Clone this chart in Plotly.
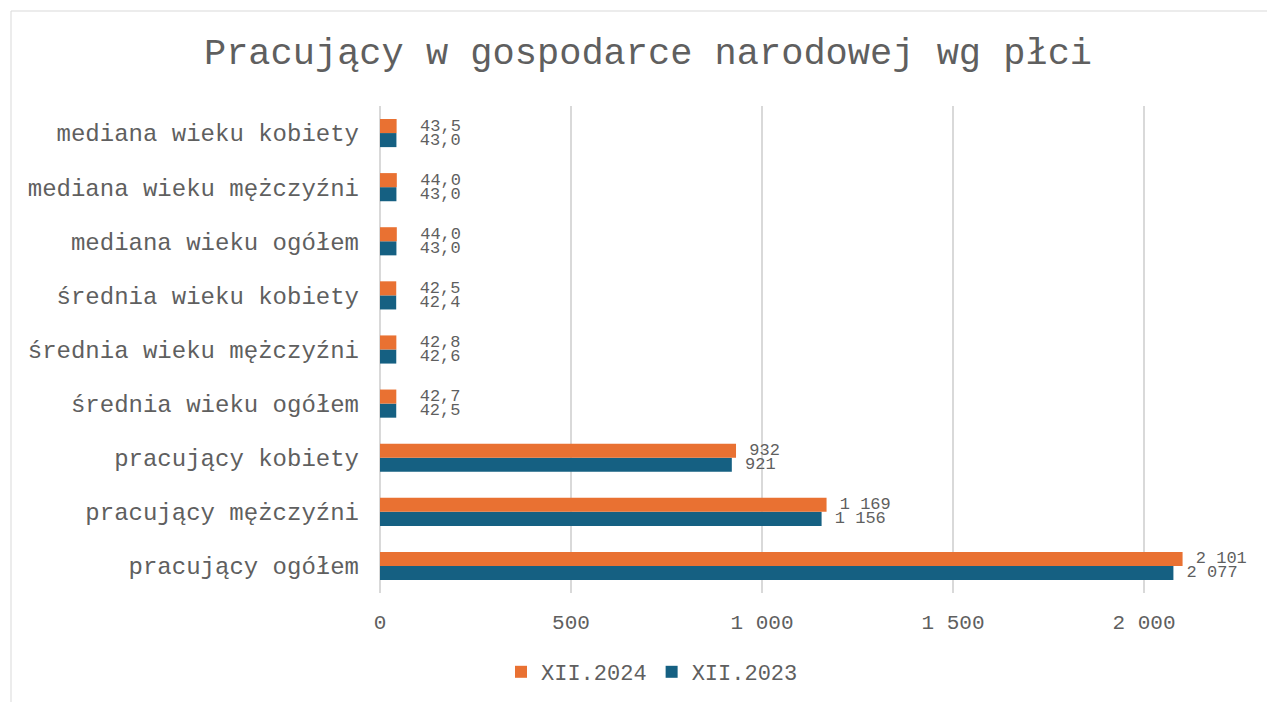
import plotly.graph_objects as go

categories = [
    "pracujący ogółem",
    "pracujący mężczyźni",
    "pracujący kobiety",
    "średnia wieku ogółem",
    "średnia wieku mężczyźni",
    "średnia wieku kobiety",
    "mediana wieku ogółem",
    "mediana wieku mężczyźni",
    "mediana wieku kobiety",
]
xii_2023 = [2077, 1156, 921, 42.5, 42.6, 42.4, 43.0, 43.0, 43.0]
xii_2024 = [2101, 1169, 932, 42.7, 42.8, 42.5, 44.0, 44.0, 43.5]
decimals = [0, 0, 0, 1, 1, 1, 1, 1, 1]
tick_vals = [0, 500, 1000, 1500, 2000]

NB = "\u00a0"


def fmt(v, d):
    if d == 0:
        return NB + f"{v:,.0f}".replace(",", " ")
    return NB * 2 + f"{v:.{d}f}".replace(".", ",")


ORANGE = "#E97132"
BLUE = "#156082"
GRAY = "#5F5F5F"
MONO = "Liberation Mono, Courier New, monospace"

fig = go.Figure()
fig.add_trace(go.Bar(
    y=categories, x=xii_2023, orientation="h", name="XII.2023",
    marker=dict(color=BLUE, line=dict(width=0)),
    text=[fmt(v, d) for v, d in zip(xii_2023, decimals)],
    textposition="outside", constraintext="none", cliponaxis=False,
    textfont=dict(family=MONO, size=17, color=GRAY),
))
fig.add_trace(go.Bar(
    y=categories, x=xii_2024, orientation="h", name="XII.2024",
    marker=dict(color=ORANGE, line=dict(width=0)),
    text=[fmt(v, d) for v, d in zip(xii_2024, decimals)],
    textposition="outside", constraintext="none", cliponaxis=False,
    textfont=dict(family=MONO, size=17, color=GRAY),
))

# page body has an 8px margin, so figure coords = reference coords - 8
OFF = 8
W, H = 1275 - OFF, 702 - OFF
L, R = 380 - OFF, 0
T = 106 - OFF
B = H - (593 - OFF)
pw = W - L - R
ph = H - T - B

fig.update_layout(
    width=W, height=H,
    margin=dict(l=L, r=R, t=T, b=B),
    paper_bgcolor="white", plot_bgcolor="white",
    separators=", ",
    barmode="group", bargap=0.48, bargroupgap=0,
    title=dict(
        text="Pracujący w gospodarce narodowej wg płci",
        font=dict(family=MONO, size=37, color=GRAY),
        x=(648 - OFF) / W, xanchor="center", xref="container",
        y=1 - (51 - OFF) / H, yanchor="middle", yref="container",
    ),
    legend=dict(
        orientation="h", traceorder="reversed",
        xref="container", x=(652 - OFF) / W, xanchor="center",
        yref="container", y=1 - (672 - OFF) / H, yanchor="middle",
        font=dict(family=MONO, size=22, color=GRAY),
        itemwidth=30,
    ),
    xaxis=dict(
        range=[0, pw / 191.0 * 500],
        tickvals=tick_vals, tickformat=",d",
        showgrid=True, gridcolor="#D9D9D9", gridwidth=1.5,
        zeroline=True, zerolinecolor="#D9D9D9", zerolinewidth=2,
        showline=False, ticks="",
        tickfont=dict(family=MONO, size=21, color=GRAY),
        ticklabelstandoff=14,
    ),
    yaxis=dict(
        showgrid=False, showline=False, ticks="",
        tickfont=dict(family=MONO, size=24, color=GRAY),
        ticklabelstandoff=20,
    ),
    shapes=[dict(
        type="rect", xref="paper", yref="paper",
        x0=(11 - OFF - L) / pw, x1=(W + 10 - L) / pw,
        y0=-(B + 10) / ph, y1=(ph + T - (11 - OFF)) / ph,
        line=dict(color="#D9D9D9", width=1), fillcolor="rgba(0,0,0,0)",
        layer="below",
    )],
)

fig.write_html("out.html")
